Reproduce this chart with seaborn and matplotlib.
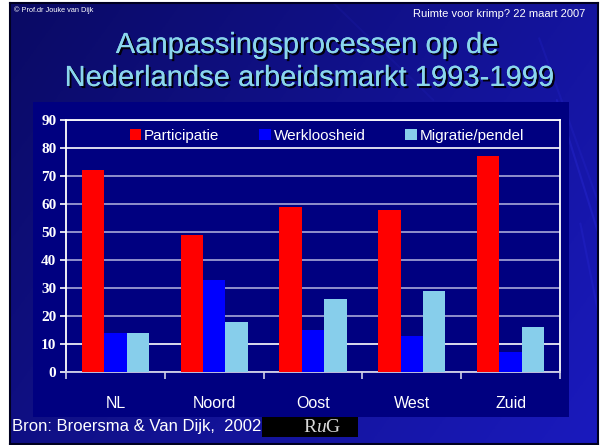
import matplotlib
matplotlib.use("Agg")
import matplotlib.pyplot as plt
import matplotlib.patheffects as pe
from matplotlib.patches import Rectangle
import seaborn as sns
import pandas as pd
import numpy as np

# data
regions = ["NL", "Noord", "Oost", "West", "Zuid"]
participatie = [72, 49, 59, 58, 77]
werkloosheid = [14, 33, 15, 13, 7]
migratie = [14, 18, 26, 29, 16]
series_names = ["Participatie", "Werkloosheid", "Migratie/pendel"]
series_colors = ["#ff0000", "#0000ff", "#87ceeb"]
y_ticks = [0, 10, 20, 30, 40, 50, 60, 70, 80, 90]

df = pd.DataFrame({
    "Regio": regions * 3,
    "Reeks": [series_names[0]] * 5 + [series_names[1]] * 5 + [series_names[2]] * 5,
    "Waarde": participatie + werkloosheid + migratie,
})

sns.set_theme(style="white")
plt.rcParams["font.family"] = ["Liberation Sans", "DejaVu Sans"]
plt.rcParams["mathtext.fontset"] = "custom"
plt.rcParams["mathtext.rm"] = "Liberation Serif"
plt.rcParams["mathtext.it"] = "Liberation Serif:italic"

W, H = 600, 445
fig = plt.figure(figsize=(6, 4.45), dpi=100, facecolor="white")

# slide background (blue gradient)
bg = fig.add_axes([10 / W, 1 - 444 / H, 588 / W, 441 / H])
gx, gy = np.meshgrid(np.linspace(0, 1, 200), np.linspace(0, 1, 150))
t = 0.65 * gx + 0.35 * gy
c0 = np.array([10, 10, 100]) / 255
c1 = np.array([26, 26, 190]) / 255
img = c0[None, None, :] + (c1 - c0)[None, None, :] * t[:, :, None]
bg.imshow(img, aspect="auto", extent=[0, 1, 1, 0])
for x0, y0, x1, y1, a in [(0.93, 0.22, 1.0, 0.52, 0.2), (0.9, 0.08, 1.0, 0.45, 0.12),
                          (0.55, 0.0, 0.72, 0.22, 0.08), (0.97, 0.5, 1.0, 0.7, 0.15)]:
    bg.plot([x0, x1], [y0, y1], color="#3a3aff", lw=1.5, alpha=a)
bg.set_xlim(0, 1)
bg.set_ylim(1, 0)
bg.set_xticks([])
bg.set_yticks([])
for s in bg.spines.values():
    s.set_color("#000020")
    s.set_linewidth(1.5)

# chart panel
fig.patches.append(Rectangle((33 / W, 1 - 417 / H), 536 / W, 315 / H,
                             transform=fig.transFigure, facecolor="#000080",
                             edgecolor="none", zorder=1))

ax = fig.add_axes([66 / W, 1 - 372 / H, 494 / W, 252 / H], zorder=2)
ax.set_facecolor("#000080")
sns.barplot(data=df, x="Regio", y="Waarde", hue="Reeks", order=regions,
            hue_order=series_names, palette=series_colors, width=0.68,
            gap=0, saturation=1, linewidth=0, edgecolor="none", ax=ax, zorder=3)

ax.set_ylim(0, 90)
ax.set_xlim(-0.5, 4.5)
ax.set_yticks(y_ticks)
ax.set_yticklabels([str(v) for v in y_ticks], family="Liberation Serif",
                   weight="bold", color="white", fontsize=11)
ax.tick_params(axis="y", length=4, width=1.2, color="white", pad=3, direction="out", left=True)

# category labels centred, ticks at group boundaries
ax.set_xticks(np.arange(-0.5, 5, 1.0))
ax.set_xticklabels([])
ax.set_xticks(range(len(regions)), minor=True)
ax.set_xticklabels(regions, minor=True, color="white", fontsize=11.5)
ax.tick_params(axis="x", which="major", length=5, width=1.2, color="#d0d0e8", direction="out", bottom=True)
ax.tick_params(axis="x", which="minor", length=0, pad=17)
ax.set_xlabel("")
ax.set_ylabel("")

ax.yaxis.grid(True, zorder=0)
for val, gl in zip(y_ticks, ax.get_ygridlines()):
    gl.set_color("white" if val in (10, 80) else "#a8a8d8")
    gl.set_linewidth(1.2)
ax.set_axisbelow(True)
for name, s in ax.spines.items():
    s.set_visible(True)
    s.set_color("white" if name != "bottom" else "#d0d0e8")
    s.set_linewidth(1.3)

handles, labels = ax.get_legend_handles_labels()
for h in handles:
    h.set_edgecolor("none")
    h.set_linewidth(0)
ax.legend(handles, labels, loc="center", bbox_to_anchor=(0.528, 0.937), ncol=3,
          frameon=False, handlelength=0.75, handleheight=0.75, handletextpad=0.2,
          columnspacing=2.6, labelcolor="white", fontsize=11)

# title and slide texts
shadow = [pe.withSimplePatchShadow(offset=(1.5, -1.5), shadow_rgbFace="black", alpha=0.9), pe.Normal()]
fig.text(307 / W, 1 - 45 / H, "Aanpassingsprocessen op de", ha="center", va="center",
         color="#8ad6ec", fontsize=21, path_effects=shadow)
fig.text(309 / W, 1 - 78 / H, "Nederlandse arbeidsmarkt 1993-1999", ha="center", va="center",
         color="#8ad6ec", fontsize=21, path_effects=shadow)
fig.text(14 / W, 1 - 10 / H, "© Prof.dr Jouke van Dijk", ha="left", va="center",
         color="white", fontsize=5.3)
fig.text(585 / W, 1 - 14 / H, "Ruimte voor krimp? 22 maart 2007", ha="right", va="center",
         color="white", fontsize=8)
fig.text(12 / W, 1 - 427 / H, "Bron: Broersma & Van Dijk,  2002", ha="left", va="center",
         color="white", fontsize=12)
fig.patches.append(Rectangle((262 / W, 1 - 437 / H), 96 / W, 20 / H,
                             transform=fig.transFigure, facecolor="black",
                             edgecolor="none", zorder=3))
fig.text(322 / W, 1 - 427 / H, r"$\mathrm{R}\mathit{u}\mathrm{G}$", ha="center", va="center",
         color="#d8d8d8", fontsize=14, zorder=4)

fig.savefig("out.png", dpi=100, facecolor="white")
